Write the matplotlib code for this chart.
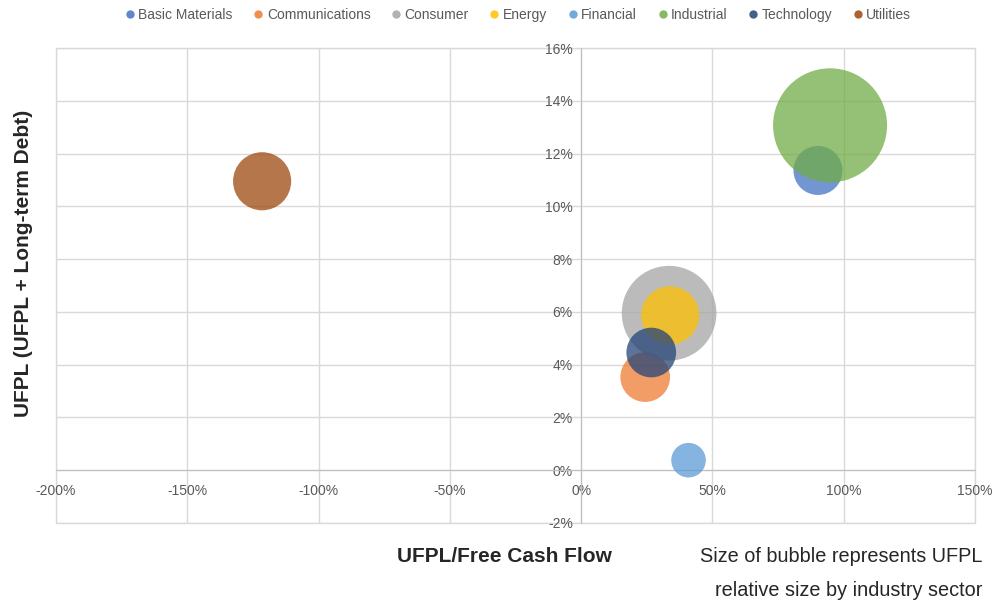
import matplotlib
matplotlib.use("Agg")
import matplotlib.pyplot as plt
from matplotlib.ticker import FuncFormatter, MultipleLocator
from matplotlib.lines import Line2D
from matplotlib.patches import Rectangle

plt.rcParams['font.family'] = ['Liberation Sans', 'DejaVu Sans']

sectors = ["Basic Materials", "Communications", "Consumer", "Energy",
           "Financial", "Industrial", "Technology", "Utilities"]
ufpl_fcf = [0.902, 0.244, 0.335, 0.339, 0.409, 0.948, 0.267, -1.215]      # x
ufpl_debt = [0.1136, 0.0353, 0.0595, 0.0587, 0.0038, 0.1307, 0.0446, 0.1095]  # y
ufpl_size = [18.5, 19, 69, 26, 9.2, 100, 19, 26]   # relative size
colors = ["#4472C4", "#ED7D31", "#A5A5A5", "#FFC000",
          "#5B9BD5", "#70AD47", "#264478", "#9E480E"]

fig = plt.figure(figsize=(10.05, 6.01), dpi=100)
ax = fig.add_axes([56/1005, 1-523/601, (975-56)/1005, (523-48)/601])

scale = 67.37
for name, x, y, s, c in zip(sectors, ufpl_fcf, ufpl_debt, ufpl_size, colors):
    ax.scatter([x], [y], s=s*scale, color=c, alpha=0.75, edgecolors='none', zorder=3)

ax.set_xlim(-2.0, 1.5)
ax.set_ylim(-0.02, 0.16)
ax.xaxis.set_major_locator(MultipleLocator(0.5))
ax.yaxis.set_major_locator(MultipleLocator(0.02))
ax.xaxis.set_major_formatter(FuncFormatter(lambda v, p: f"{v*100:.0f}%"))
ax.yaxis.set_major_formatter(FuncFormatter(lambda v, p: f"{v*100:.0f}%"))
ax.grid(True, color="#D9D9D9", linewidth=1.0, zorder=0)
ax.set_axisbelow(True)
for sp in ['top', 'right']:
    ax.spines[sp].set_visible(False)
ax.spines['left'].set_position(('data', 0))
ax.spines['bottom'].set_position(('data', 0))
ax.spines['left'].set_color("#BFBFBF")
ax.spines['bottom'].set_color("#BFBFBF")
ax.spines['left'].set_zorder(1)
ax.spines['bottom'].set_zorder(1)
ax.tick_params(length=0, labelsize=10, labelcolor="#595959")
ax.tick_params(axis='x', pad=10)
ax.tick_params(axis='y', pad=6)

frame = Rectangle((0, 0), 1, 1, transform=ax.transAxes, fill=False,
                  edgecolor="#D9D9D9", linewidth=1.0, clip_on=False, zorder=0.5)
ax.add_patch(frame)

leg_handles = [Line2D([0], [0], marker='o', linestyle='none', markersize=6,
                      markerfacecolor=c, markeredgecolor='none', alpha=0.85)
               for c in colors]
fig.legend(leg_handles, sectors, loc='center', bbox_to_anchor=(0.516, 1-15/601),
           ncol=8, frameon=False, fontsize=10, handlelength=0.6,
           handletextpad=0.3, columnspacing=1.55, labelcolor="#595959")

fig.text(24/1005, 1-263/601, "UFPL (UFPL + Long-term Debt)", rotation=90,
         ha='center', va='center', fontsize=15, fontweight='bold', color="#262626")
fig.text(504/1005, 1-557/601, "UFPL/Free Cash Flow", ha='center', va='center',
         fontsize=15, fontweight='bold', color="#262626")
fig.text(982/1005, 1-557/601, "Size of bubble represents UFPL", ha='right',
         va='center', fontsize=14.3, color="#262626")
fig.text(982/1005, 1-590/601, "relative size by industry sector", ha='right',
         va='center', fontsize=14.3, color="#262626")

fig.savefig("out.png", dpi=100)
